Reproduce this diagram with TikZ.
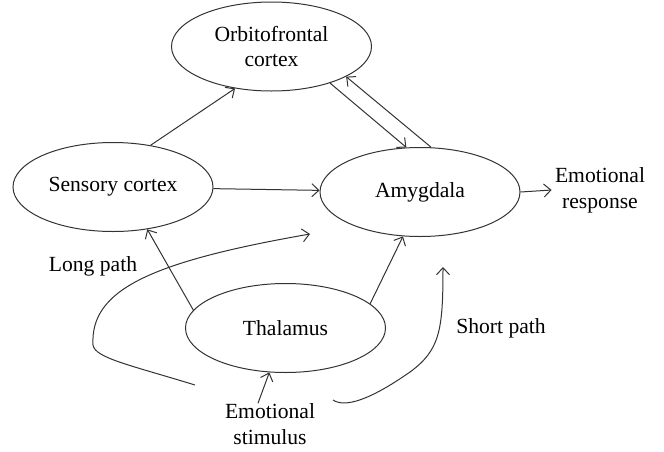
\documentclass[tikz,border=0pt]{standalone}
\usepackage{fontspec}
\setmainfont{Liberation Serif}
\usetikzlibrary{shapes.geometric,arrows.meta}
\definecolor{linegray}{HTML}{333333}
\tikzset{
  region/.style={ellipse,draw=linegray,line width=0.5pt,minimum width=100pt,minimum height=44.5pt,inner sep=0pt,align=center},
  label/.style={align=center,inner sep=0pt},
  conn/.style={linegray,line width=0.5pt,-{Straight Barb[length=3.5pt,width=6.5pt]}}
}
\begin{document}
\begin{tikzpicture}[x=0.5pt,y=-0.5pt,font=\fontsize{10.8}{12.8}\selectfont]
  \useasboundingbox (0,0) rectangle (664,451);
  % brain regions
  \node[region] (orb) at (271.5,46.5) {Orbitofrontal\\cortex};
  \node[region] (sens) at (113,187) {Sensory cortex};
  \node[region] (amy) at (420,192) {Amygdala};
  \node[region] (thal) at (285.5,328) {Thalamus};
  % texts
  \node[label] (resp) at (600,190) {Emotional\\response};
  \node[label] (stim) at (270,424) {Emotional\\stimulus};
  \node[label] (long) at (93,266) {Long path};
  \node[label] (short) at (501,328) {Short path};
  % connections
  \draw[conn] (sens.48) -- (orb.229);
  \draw[conn] (sens) -- (amy);
  \draw[conn] (orb.328) -- (amy.107);
  \draw[conn] (amy.76) -- (orb.338);
  \draw[conn] (thal.169) -- (sens.309);
  \draw[conn] (thal.16) -- (amy.249);
  \draw[conn] ([xshift=-6pt]stim.north) -- (thal.250);
  \draw[conn] (amy.east) -- ([xshift=-1.5pt]resp.west);
  % long and short path
  \coordinate (ls) at (195,385);
  \coordinate (le) at (310,234);
  \coordinate (ss) at (333,400);
  \coordinate (se) at (443,267);
  \draw[conn] (ls) .. controls (130,365) and (95,358) .. (93,345)
    .. controls (90,290) and (150,262) .. (le);
  \draw[conn] (ss) .. controls (345,408) and (370,400) .. (410,372)
    .. controls (440,350) and (443,330) .. (se);
\end{tikzpicture}
\end{document}
